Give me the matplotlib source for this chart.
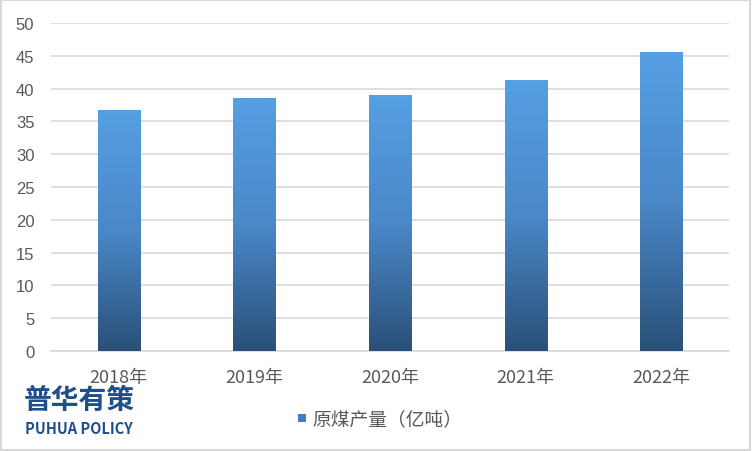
import numpy as np
import matplotlib.pyplot as plt
from matplotlib.colors import LinearSegmentedColormap
from matplotlib.patches import Rectangle

plt.rcParams['font.family'] = ['Noto Sans CJK SC', 'DejaVu Sans']

years = ['2018年', '2019年', '2020年', '2021年', '2022年']
output = [36.8, 38.5, 39.0, 41.3, 45.6]
series_name = '原煤产量（亿吨）'

fig = plt.figure(figsize=(7.52, 4.52), dpi=100)
ax = fig.add_axes([51 / 752, 1 - 352 / 452, 678 / 752, 328 / 452])

x = np.arange(len(years))
bars = ax.bar(x, output, width=0.31, color='none', zorder=3)

# vertical gradient inside each bar
cmap = LinearSegmentedColormap.from_list('bar', ['#2a5078', '#4a88c8', '#559fe3'])
grad = np.linspace(0, 1, 256).reshape(-1, 1)
for b in bars:
    x0, y0 = b.get_x(), b.get_y()
    w, h = b.get_width(), b.get_height()
    im = ax.imshow(grad, cmap=cmap, origin='lower', aspect='auto',
                   extent=[x0, x0 + w, y0, y0 + h], zorder=3)
    im.set_clip_path(b)

ax.set_xlim(-0.5, len(years) - 0.5)
ax.set_ylim(0, 50)
ax.set_yticks(range(0, 51, 5))
ax.set_xticks(x)
ax.set_xticklabels(years)
ax.yaxis.grid(True, color='#d9d9d9', linewidth=1.2, zorder=0)
ax.set_axisbelow(True)
for s in ['top', 'right', 'left']:
    ax.spines[s].set_visible(False)
ax.spines['bottom'].set_color('#d9d9d9')
ax.spines['bottom'].set_linewidth(1.2)
ax.tick_params(axis='both', length=0, colors='#595959')
ax.tick_params(axis='x', labelsize=13, pad=12)
ax.tick_params(axis='y', pad=12)
for t in ax.get_yticklabels():
    t.set_family(['Liberation Sans', 'DejaVu Sans'])
    t.set_fontsize(12)

# legend
fig.patches.append(Rectangle((298 / 752, 1 - 423 / 452), 8 / 752, 8 / 452,
                             transform=fig.transFigure, facecolor='#3f7dbf',
                             edgecolor='none'))
fig.text(312 / 752, 1 - 420 / 452, series_name, fontsize=13.5, color='#595959',
         va='center', ha='left')

# logo
fig.text(24 / 752, 1 - 401 / 452, '普华有策', fontsize=20, fontweight='bold',
         color='#1f4e8c', va='center', ha='left')
fig.text(25 / 752, 1 - 429 / 452, 'PUHUA POLICY', fontsize=10.5, fontweight='bold',
         color='#1f4e8c', va='center', ha='left')

# outer border
fig.patches.append(Rectangle((0.001, 0.002), 0.997, 0.995, transform=fig.transFigure,
                             fill=False, edgecolor='#d9d9d9', linewidth=1.5))

fig.savefig('out.png', dpi=100)
